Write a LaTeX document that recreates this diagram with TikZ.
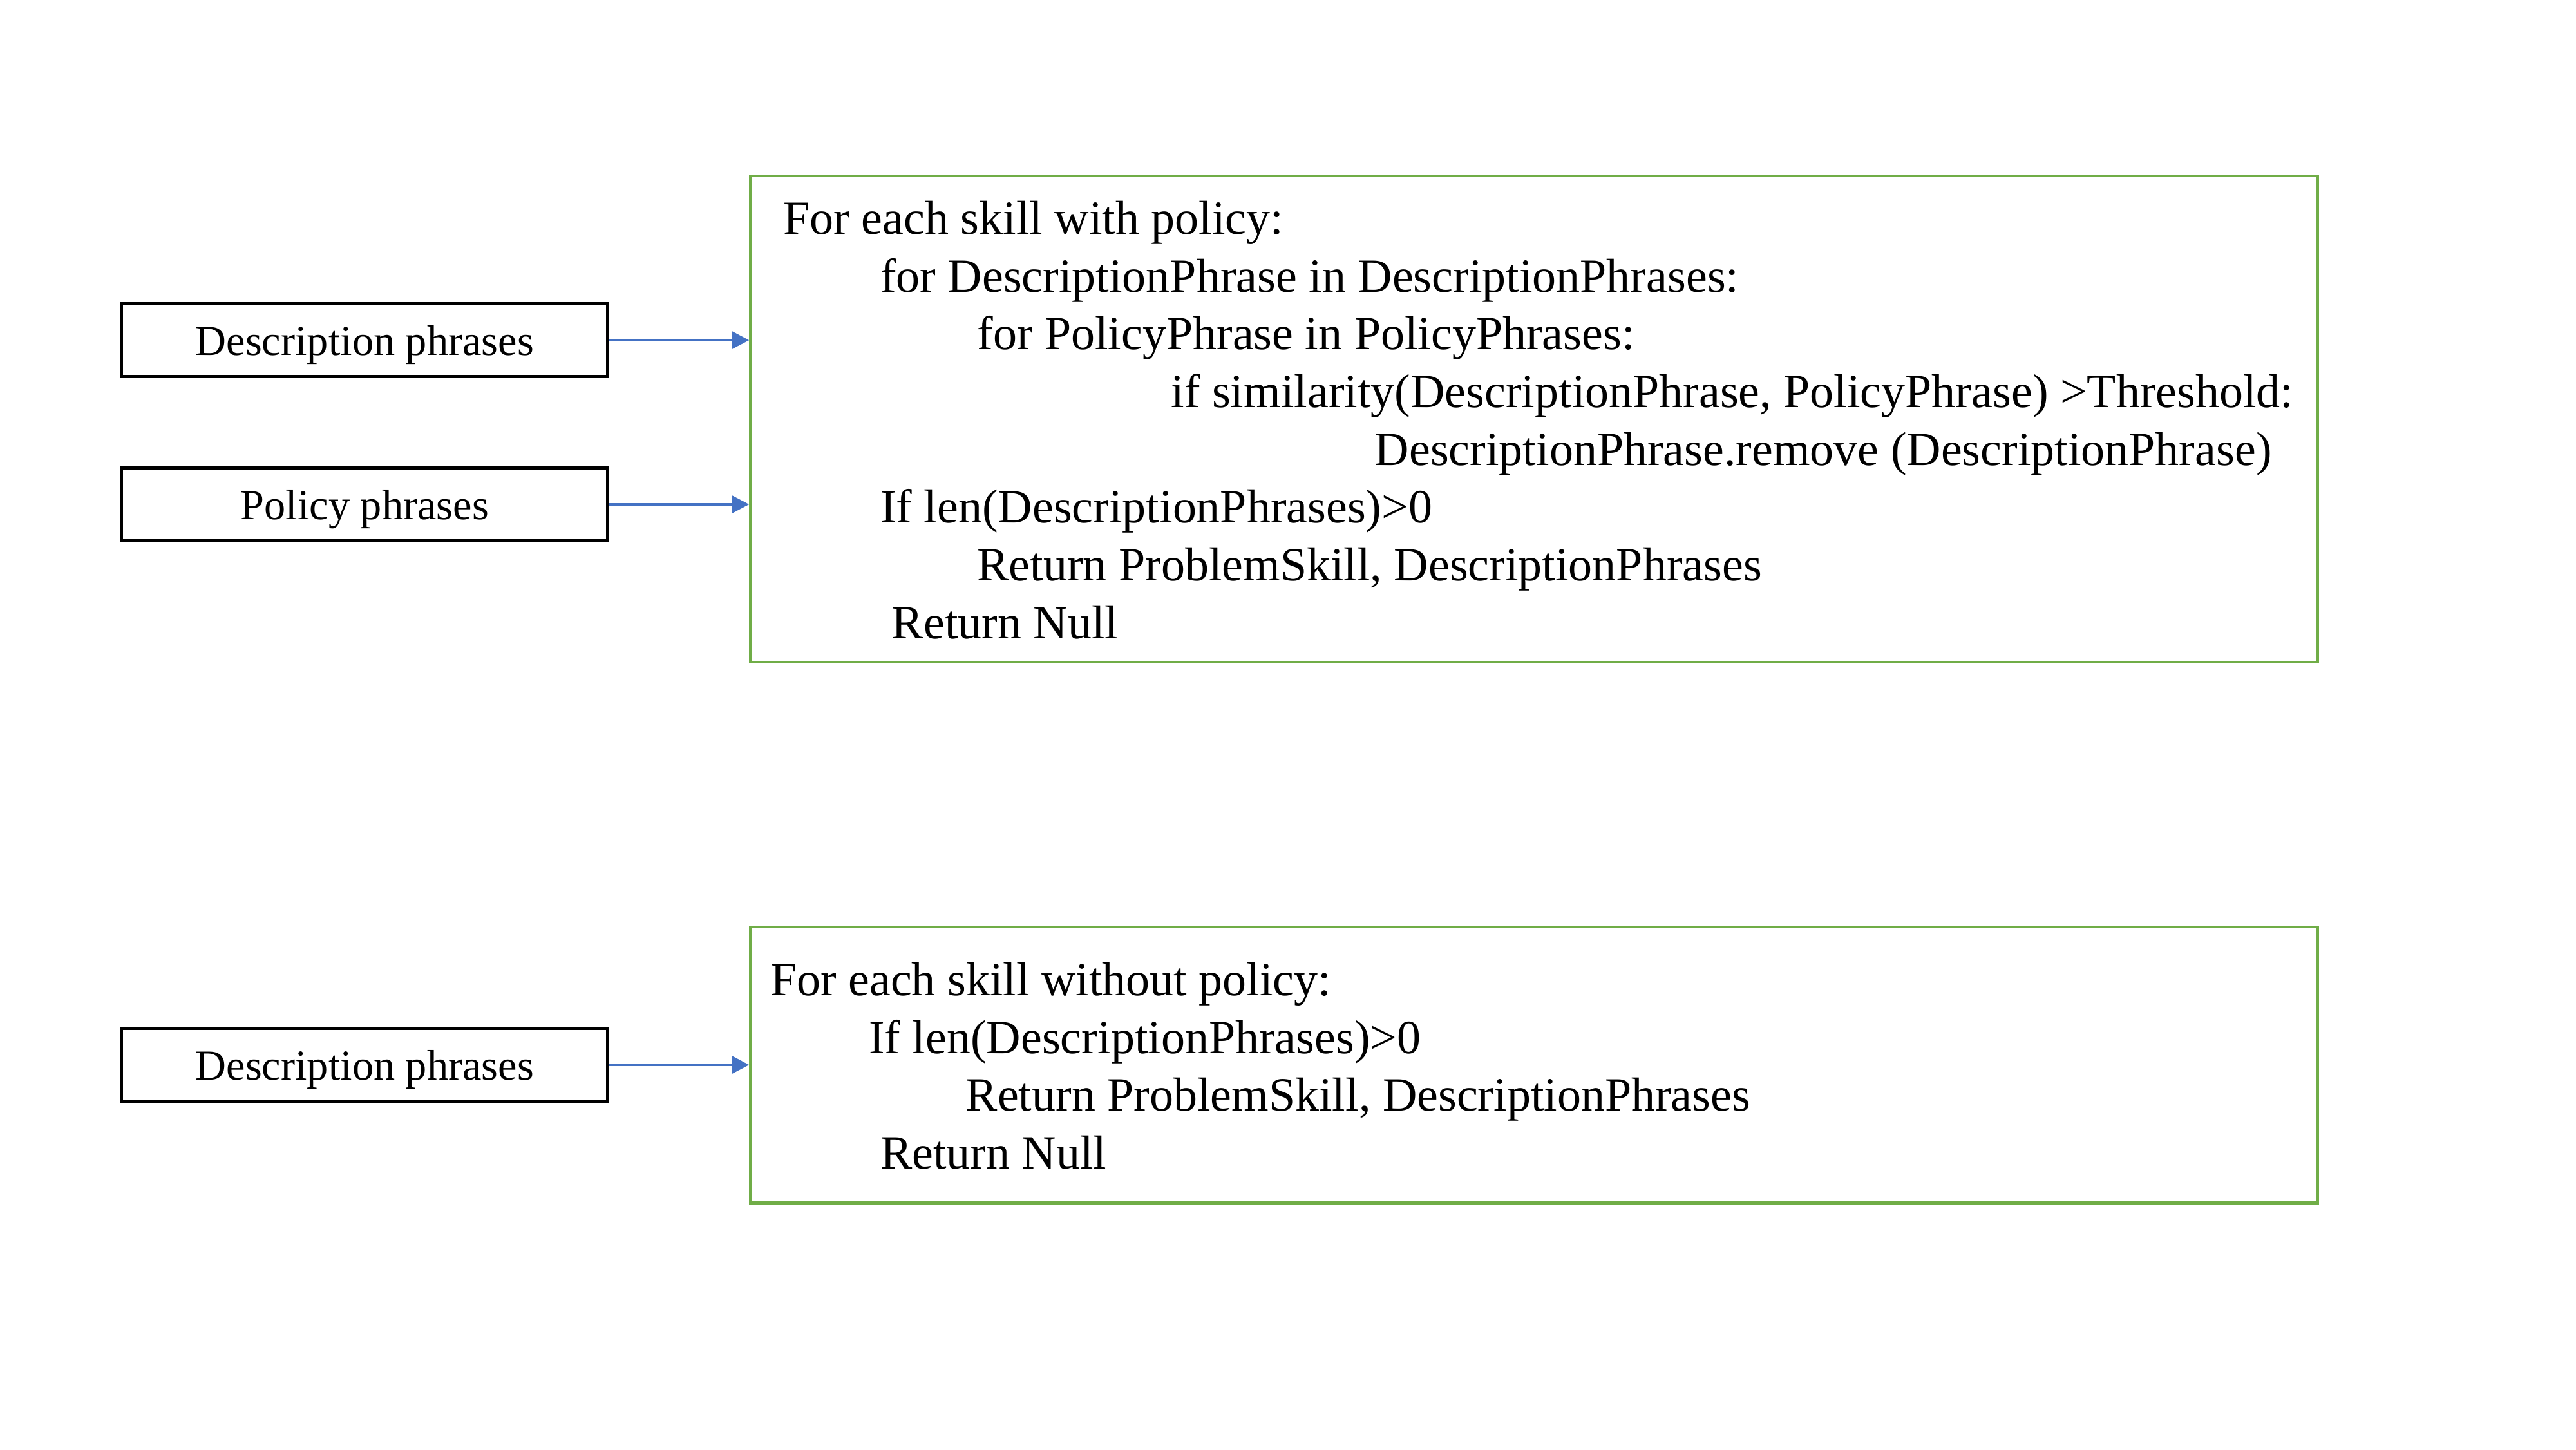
\documentclass[tikz,border=0pt]{standalone}
\usepackage{fontspec}
\setmainfont{Liberation Serif}
\usetikzlibrary{positioning, arrows.meta}
\definecolor{boxgreen}{HTML}{70AD47}
\definecolor{arrowblue}{HTML}{4472C4}

\begin{document}
\begin{tikzpicture}[
    node distance=0.54cm and 0.86cm,
    inputbox/.style={draw=black, line width=0.55pt, minimum width=2.96cm, minimum height=0.44cm, inner sep=0pt, text depth=0pt, font=\fontsize{7.4pt}{9pt}\selectfont},
    algobox/.style={draw=boxgreen, line width=0.5pt, inner ysep=0pt, anchor=west, font=\fontsize{8.25pt}{10pt}\selectfont},
    arrow/.style={-{Triangle[length=3pt, width=3pt]}, arrowblue, line width=0.5pt}
]
\fill[white] (0,0) rectangle (15.68,8.82);
\useasboundingbox (0,0) rectangle (15.68,8.82);

% Inputs
\node[inputbox] (desc1) at (2.22,6.75) {Description phrases};
\node[inputbox, below=of desc1] (pol) {Policy phrases};
\node[inputbox] (desc2) at (2.22,2.34) {Description phrases};

% Skills with policy
\node[algobox, minimum height=2.96cm, inner xsep=0.2cm] (withpol) at (4.56,6.27) {\makebox[9.14cm][l]{\begin{tabular}{@{}l@{}}
\rule{0pt}{9pt}For each skill with policy:\\
\hspace*{0.59cm}for DescriptionPhrase in DescriptionPhrases:\\
\hspace*{1.18cm}for PolicyPhrase in PolicyPhrases:\\
\hspace*{2.36cm}if similarity(DescriptionPhrase, PolicyPhrase) >Threshold:\\
\hspace*{3.60cm}DescriptionPhrase.remove (DescriptionPhrase)\\
\hspace*{0.59cm}If len(DescriptionPhrases)>0\\
\hspace*{1.18cm}Return ProblemSkill, DescriptionPhrases\\
\hspace*{0.66cm}Return Null
\end{tabular}}};

% Skills without policy
\node[algobox, minimum height=1.68cm, inner xsep=0.12cm] (nopol) at (4.56,2.34) {\makebox[9.30cm][l]{\begin{tabular}{@{}l@{}}
\rule{0pt}{9pt}For each skill without policy:\\
\hspace*{0.60cm}If len(DescriptionPhrases)>0\\
\hspace*{1.19cm}Return ProblemSkill, DescriptionPhrases\\
\hspace*{0.67cm}Return Null
\end{tabular}}};

% Arrows
\draw[arrow] (desc1.east) -- (desc1.east -| withpol.west);
\draw[arrow] (pol.east) -- (pol.east -| withpol.west);
\draw[arrow] (desc2.east) -- (desc2.east -| nopol.west);

\end{tikzpicture}
\end{document}
